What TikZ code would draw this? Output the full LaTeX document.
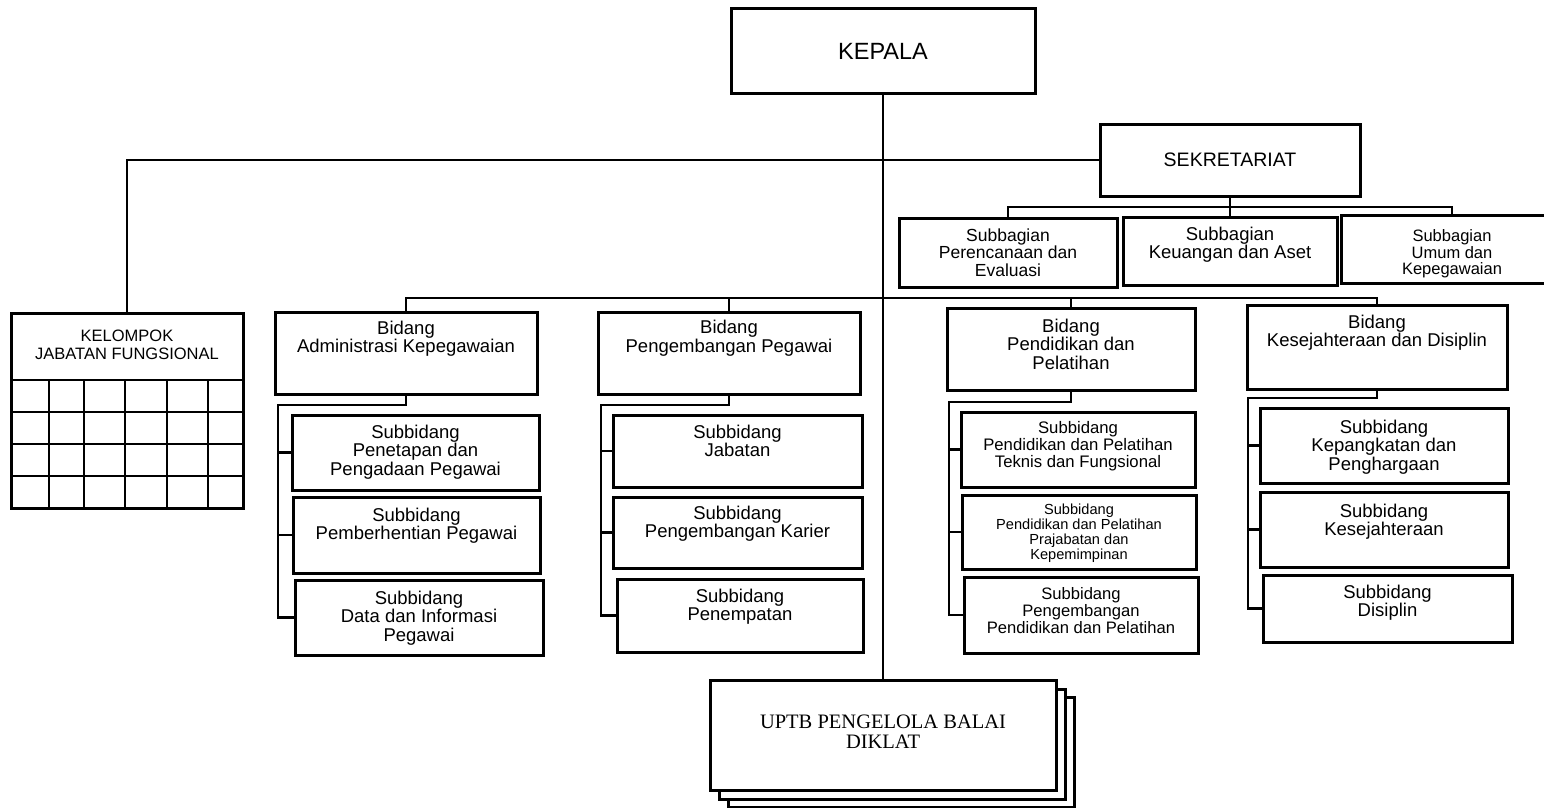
\documentclass[tikz,border=0pt]{standalone}
\usepackage{fontspec}
\setmainfont{Liberation Sans}
\newfontfamily\uptbfont{Liberation Serif}
\usetikzlibrary{fit,calc}
\newcommand\myfs[2]{\fontsize{#1}{#2}\selectfont}
\begin{document}
\begin{tikzpicture}[x=1pt,y=-1pt,
  box/.style={draw, line width=3pt, inner sep=0pt, fill=white},
  conn/.style={line width=2.6pt},
  lbl/.style={align=center, inner sep=0pt, anchor=north},
  ctr/.style={align=center, inner sep=0pt, anchor=center},
  bigf/.style={font=\myfs{18.5}{18.5}},
]
\fill[white] (0,0) rectangle (1544,808);
\useasboundingbox (0,0) rectangle (1544,808);

% ---------- top ----------
\node[box, fit={(731,9) (1035,93)}] (kepala) {};
\node[ctr, font=\myfs{23.5}{23.5}] (kepala-t) at (kepala.center) {KEPALA};
\node[box, fit={(1100,124) (1360,196)}] (sek) {};
\node[ctr, font=\myfs{19.5}{19.5}] (sek-t) at (sek.center) {SEKRETARIAT};

% ---------- subbagian ----------
\node[box, fit={(899,218) (1117,287)}] (sb1) {};
\node[box, fit={(1123,217) (1337,285)}] (sb2) {};
\node[box, fit={(1341,215) (1563,283)}] (sb3) {};
\node[lbl, font=\myfs{17.5}{17.5}] (sb1-t) at ($(sb1.north)+(0,11.7)$) {Subbagian\\Perencanaan dan\\Evaluasi};
\node[lbl, font=\myfs{18.5}{18.5}] (sb2-t) at ($(sb2.north)+(0,11.3)$) {Subbagian\\Keuangan dan Aset};
\node[lbl, font=\myfs{16.5}{16.5}] (sb3-t) at ($(sb3.north)+(0,16)$) {Subbagian\\Umum dan\\Kepegawaian};

% ---------- kelompok jabatan fungsional ----------
\node[box, fit={(11,313) (243,508)}] (kel) {};
\node[ctr, font=\myfs{16.5}{18}] (kel-t) at ($(kel.north)+(0,33.5)$) {KELOMPOK\\JABATAN FUNGSIONAL};
\foreach \yy in {380,412,444,476} \draw[conn] (11,\yy) -- (243,\yy);
\foreach \xx in {49,84,125,167,208} \draw[conn] (\xx,380) -- (\xx,508);

% ---------- bidang ----------
\node[box, fit={(275,312) (537,394)}] (adm) {};
\node[box, fit={(598,312) (860,394)}] (peng) {};
\node[box, fit={(947,308) (1195,390)}] (pend) {};
\node[box, fit={(1247,305) (1507,389)}] (kes) {};
\node[lbl, bigf] (adm-t) at ($(adm.north)+(0,10.3)$) {Bidang\\Administrasi Kepegawaian};
\node[lbl, bigf] (peng-t) at ($(peng.north)+(0,9.5)$) {Bidang\\Pengembangan Pegawai};
\node[lbl, bigf] (pend-t) at ($(pend.north)+(0,12)$) {Bidang\\Pendidikan dan\\Pelatihan};
\node[lbl, bigf] (kes-t) at ($(kes.north)+(0,11)$) {Bidang\\Kesejahteraan dan Disiplin};

% ---------- subbidang ----------
\node[box, fit={(292,415) (539,490)}] (adm1) {};
\node[box, fit={(293,497) (540,573)}] (adm2) {};
\node[box, fit={(295,580) (543,655)}] (adm3) {};
\node[lbl, bigf] (adm1-t) at ($(adm1.north)+(0,11.3)$) {Subbidang\\Penetapan dan\\Pengadaan Pegawai};
\node[lbl, bigf] (adm2-t) at ($(adm2.north)+(0,12.3)$) {Subbidang\\Pemberhentian Pegawai};
\node[lbl, bigf] (adm3-t) at ($(adm3.north)+(0,12.3)$) {Subbidang\\Data dan Informasi\\Pegawai};

\node[box, fit={(613,415) (862,487)}] (peng1) {};
\node[box, fit={(613,497) (862,568)}] (peng2) {};
\node[box, fit={(617,579) (863,652)}] (peng3) {};
\node[lbl, bigf] (peng1-t) at ($(peng1.north)+(0,11.3)$) {Subbidang\\Jabatan};
\node[lbl, bigf] (peng2-t) at ($(peng2.north)+(0,10.3)$) {Subbidang\\Pengembangan Karier};
\node[lbl, bigf] (peng3-t) at ($(peng3.north)+(0,11.3)$) {Subbidang\\Penempatan};

\node[box, fit={(961,412) (1195,487)}] (pend1) {};
\node[box, fit={(962,495) (1196,569)}] (pend2) {};
\node[box, fit={(964,577) (1198,653)}] (pend3) {};
\node[lbl, font=\myfs{16.7}{17}] (pend1-t) at ($(pend1.north)+(0,11)$) {Subbidang\\Pendidikan dan Pelatihan\\Teknis dan Fungsional};
\node[lbl, font=\myfs{14.6}{14.7}] (pend2-t) at ($(pend2.north)+(0,10.7)$) {Subbidang\\Pendidikan dan Pelatihan\\Prajabatan dan\\Kepemimpinan};
\node[lbl, font=\myfs{16.6}{17}] (pend3-t) at ($(pend3.north)+(0,12)$) {Subbidang\\Pengembangan\\Pendidikan dan Pelatihan};

\node[box, fit={(1260,408) (1508,483)}] (kes1) {};
\node[box, fit={(1260,492) (1508,567)}] (kes2) {};
\node[box, fit={(1263,575) (1512,642)}] (kes3) {};
\node[lbl, bigf] (kes1-t) at ($(kes1.north)+(0,13.3)$) {Subbidang\\Kepangkatan dan\\Penghargaan};
\node[lbl, bigf] (kes2-t) at ($(kes2.north)+(0,13.3)$) {Subbidang\\Kesejahteraan};
\node[lbl, bigf] (kes3-t) at ($(kes3.north)+(0,11.3)$) {Subbidang\\Disiplin};

% ---------- UPTB ----------
\node[box, fit={(728,697) (1074,807)}] (uptb3) {};
\node[box, fit={(719,689) (1065,799)}] (uptb2) {};
\node[box, fit={(710,680) (1056,790)}] (uptb) {};
\node[ctr, font=\uptbfont\myfs{20.5}{20}] (uptb-t) at ($(uptb.center)+(0,-3)$) {UPTB PENGELOLA BALAI\\DIKLAT};

% ---------- connectors ----------
\draw[conn] (kepala.south) -- (uptb.north);
\draw[conn] (sek.west) -| (kel.north);
\coordinate (sbus) at (1230,207);
\draw[conn] (sek.south) -- (sb2.north);
\draw[conn] (sb1.north) |- (sbus) -| (sb3.north);
\coordinate (bbus) at (884,298);
\draw[conn] (adm.north) |- (bbus) -| (kes.north);
\draw[conn] (peng.north) -- (peng.north |- bbus);
\draw[conn] (pend.north) -- (pend.north |- bbus);

\coordinate (admL) at (278,405);
\draw[conn] (adm.south) |- (admL) |- (adm3.west);
\draw[conn] (admL |- adm1.west) -- (adm1.west);
\draw[conn] (admL |- adm2.west) -- (adm2.west);

\coordinate (pengL) at (601,405);
\draw[conn] (peng.south) |- (pengL) |- (peng3.west);
\draw[conn] (pengL |- peng1.west) -- (peng1.west);
\draw[conn] (pengL |- peng2.west) -- (peng2.west);

\coordinate (pendL) at (949,402);
\draw[conn] (pend.south) |- (pendL) |- (pend3.west);
\draw[conn] (pendL |- pend1.west) -- (pend1.west);
\draw[conn] (pendL |- pend2.west) -- (pend2.west);

\coordinate (kesL) at (1248,398);
\draw[conn] (kes.south) |- (kesL) |- (kes3.west);
\draw[conn] (kesL |- kes1.west) -- (kes1.west);
\draw[conn] (kesL |- kes2.west) -- (kes2.west);
\end{tikzpicture}
\end{document}
